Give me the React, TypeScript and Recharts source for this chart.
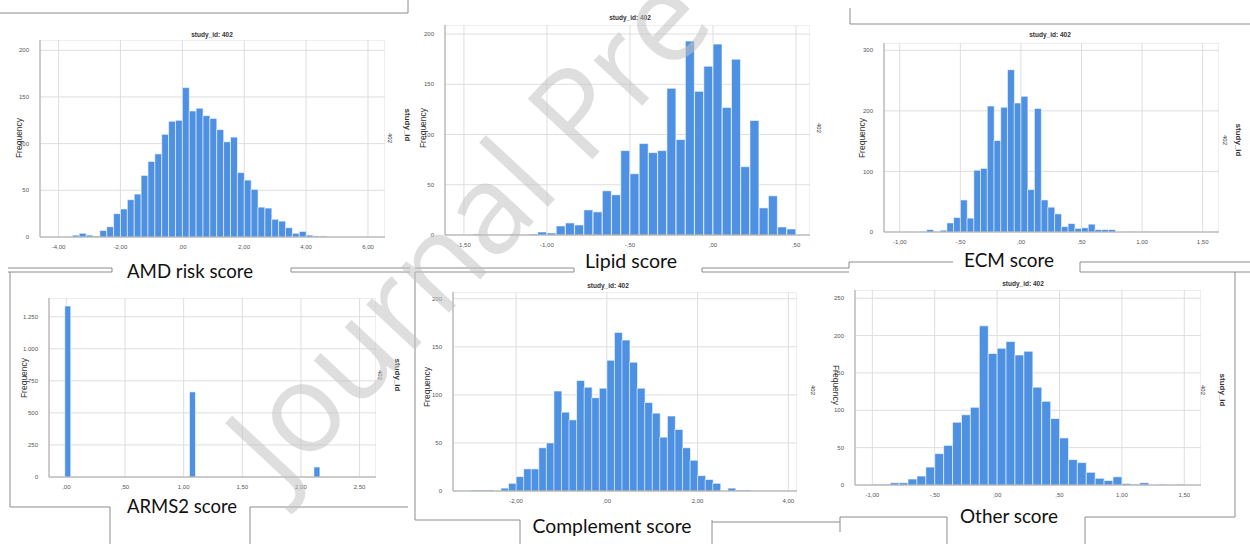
import React from 'react';
import { BarChart, Bar, XAxis, YAxis, CartesianGrid } from 'recharts';

// ---------- data (bin centres and frequencies) ----------
const amdBins = [-3.444, -3.222, -3.0, -2.778, -2.556, -2.333, -2.111, -1.889, -1.667, -1.444, -1.222, -1.0, -0.778, -0.556, -0.333, -0.111, 0.111, 0.333, 0.556, 0.778, 1.0, 1.222, 1.444, 1.667, 1.889, 2.111, 2.333, 2.556, 2.778, 3.0, 3.222, 3.444, 3.667, 3.889, 4.111, 4.333, 4.556];
const amdCounts = [2, 4, 2, 1, 7, 11, 25, 30, 40, 46, 66, 81, 89, 110, 124, 125, 160, 135, 138, 130, 127, 115, 102, 107, 69, 61, 51, 32, 31, 19, 17, 10, 4, 6, 2, 1, 1];

const lipidBins = [-1.4167, -1.3611, -1.3056, -1.25, -1.1944, -1.1389, -1.0833, -1.0278, -0.9722, -0.9167, -0.8611, -0.8056, -0.75, -0.6944, -0.6389, -0.5833, -0.5278, -0.4722, -0.4167, -0.3611, -0.3056, -0.25, -0.1944, -0.1389, -0.0833, -0.0278, 0.0278, 0.0833, 0.1389, 0.1944, 0.25, 0.3056, 0.3611, 0.4167, 0.4722];
const lipidCounts = [1, 0, 0, 0, 1, 0, 1, 3, 2, 9, 12, 10, 25, 23, 44, 40, 84, 61, 91, 82, 84, 146, 95, 193, 143, 168, 190, 127, 175, 68, 114, 27, 39, 8, 6];

const ecmBins = [-0.8056, -0.75, -0.6944, -0.6389, -0.5833, -0.5278, -0.4722, -0.4167, -0.3611, -0.3056, -0.25, -0.1944, -0.1389, -0.0833, -0.0278, 0.0278, 0.0833, 0.1389, 0.1944, 0.25, 0.3056, 0.3611, 0.4167, 0.4722, 0.5278, 0.5833, 0.6389, 0.6944, 0.75, 0.8056, 0.8611, 0.9167, 0.9722, 1.0278];
const ecmCounts = [1, 4, 1, 3, 15, 24, 53, 23, 102, 105, 208, 151, 206, 268, 213, 224, 70, 204, 53, 41, 30, 9, 14, 6, 7, 13, 4, 4, 4, 0, 0, 1, 0, 1];

const arms2Bins = [0.014, 1.077, 2.138];
const arms2Counts = [1333, 664, 78];

const complementBins = [-2.9167, -2.75, -2.5833, -2.4167, -2.25, -2.0833, -1.9167, -1.75, -1.5833, -1.4167, -1.25, -1.0833, -0.9167, -0.75, -0.5833, -0.4167, -0.25, -0.0833, 0.0833, 0.25, 0.4167, 0.5833, 0.75, 0.9167, 1.0833, 1.25, 1.4167, 1.5833, 1.75, 1.9167, 2.0833, 2.25, 2.4167, 2.5833, 2.75, 2.9167, 3.0833];
const complementCounts = [1, 1, 1, 0, 3, 8, 15, 23, 23, 45, 50, 104, 82, 74, 115, 108, 97, 107, 136, 165, 157, 134, 107, 92, 81, 56, 78, 64, 45, 32, 16, 12, 8, 0, 3, 1, 1];

const otherBins = [-0.9643, -0.8929, -0.8214, -0.75, -0.6786, -0.6071, -0.5357, -0.4643, -0.3929, -0.3214, -0.25, -0.1786, -0.1071, -0.0357, 0.0357, 0.1071, 0.1786, 0.25, 0.3214, 0.3929, 0.4643, 0.5357, 0.6071, 0.6786, 0.75, 0.8214, 0.8929, 0.9643, 1.0357, 1.1071, 1.1786, 1.25, 1.3214, 1.3929, 1.4643];
const otherCounts = [1, 1, 3, 3, 8, 12, 24, 42, 53, 84, 94, 104, 213, 176, 183, 192, 174, 179, 131, 112, 89, 63, 34, 30, 17, 9, 6, 11, 2, 1, 3, 0, 1, 0, 1];

// ---------- tick values ----------
const amdXTicks = [-4, -2, 0, 2, 4, 6];
const amdYTicks = [0, 50, 100, 150, 200];
const lipidXTicks = [-1.5, -1, -0.5, 0, 0.5];
const lipidYTicks = [0, 50, 100, 150, 200];
const ecmXTicks = [-1, -0.5, 0, 0.5, 1, 1.5];
const ecmYTicks = [0, 100, 200, 300];
const arms2XTicks = [0, 0.5, 1, 1.5, 2, 2.5];
const arms2YTicks = [0, 250, 500, 750, 1000, 1250];
const complementXTicks = [-2, 0, 2, 4];
const complementYTicks = [0, 50, 100, 150, 200];
const otherXTicks = [-1, -0.5, 0, 0.5, 1, 1.5];
const otherYTicks = [0, 50, 100, 150, 200, 250];

const panelTitle = 'study_id: 402';
const freqLabel = 'Frequency';
const captions = ['AMD risk score', 'Lipid score', 'ECM score', 'ARMS2 score', 'Complement score', 'Other score'];
const watermark = 'Journal Pre';

// ---------- helpers ----------
const xFmt = (v: number) => {
  const s = Math.abs(v).toFixed(2).replace('.', ',');
  const t = s.startsWith('0') ? s.slice(1) : s;
  return (v < 0 ? '-' : '') + t;
};
const yFmt = (v: number) =>
  v >= 1000 ? `${Math.floor(v / 1000)}.${String(v % 1000).padStart(3, '0')}` : String(v);

const toRows = (xs: number[], ys: number[]) => xs.map((x, i) => ({ x, y: ys[i] }));

const BAR = '#4e91e3';
const GRID = '#dedede';
const AXIS = '#a8a8a8';
const TICK = { fontSize: 6, fill: '#555', fontFamily: 'Liberation Sans, Arial, sans-serif' };

type PanelProps = {
  x0: number; x1: number; y0: number; y1: number;
  xs: number[]; ys: number[];
  xDomain: [number, number]; xTicks: number[];
  yDomain: [number, number]; yTicks: number[];
  barSize?: number;
};

function Panel(p: PanelProps) {
  const yw = 30;
  const xh = 14;
  return (
    <div style={{ position: 'absolute', left: p.x0 - yw, top: p.y0 }}>
      <BarChart
        width={p.x1 - p.x0 + yw}
        height={p.y1 - p.y0 + xh}
        data={toRows(p.xs, p.ys)}
        margin={{ top: 0, right: 0, bottom: 0, left: 0 }}
        barCategoryGap={0}
        barGap={0}
      >
        <CartesianGrid stroke={GRID} strokeWidth={1} />
        <XAxis
          dataKey="x"
          type="number"
          domain={p.xDomain}
          ticks={p.xTicks}
          interval={0}
          allowDataOverflow
          tickFormatter={xFmt}
          height={xh}
          tick={TICK}
          tickLine={false}
          tickMargin={2}
          axisLine={{ stroke: AXIS }}
        />
        <YAxis
          type="number"
          domain={p.yDomain}
          ticks={p.yTicks}
          interval={0}
          allowDataOverflow
          tickFormatter={yFmt}
          width={yw}
          tick={TICK}
          tickLine={false}
          tickMargin={5}
          axisLine={{ stroke: AXIS }}
        />
        <Bar dataKey="y" fill={BAR} stroke="#ffffff" strokeWidth={0.6} barSize={p.barSize} isAnimationActive={false} />
      </BarChart>
    </div>
  );
}

const txt = { fontFamily: 'Liberation Sans, Arial, sans-serif' };
const cap = { fontFamily: 'Lato, "Open Sans", sans-serif', fontSize: 19, fill: '#111' };

function Title({ x, y }: { x: number; y: number }) {
  return <text x={x} y={y} textAnchor="middle" fontSize={6.5} fontWeight="bold" fill="#333" style={txt}>{panelTitle}</text>;
}
function Freq({ x, y, flip }: { x: number; y: number; flip?: boolean }) {
  return (
    <text x={x} y={y} textAnchor="middle" dominantBaseline="middle" fontSize={8.5} fill="#333" style={txt}
      transform={`rotate(${flip ? 90 : -90} ${x} ${y})`}>{freqLabel}</text>
  );
}
function Side({ x, y, t, bold }: { x: number; y: number; t: string; bold?: boolean }) {
  return (
    <text x={x} y={y} textAnchor="middle" dominantBaseline="middle" fontSize={bold ? 8 : 6} fontWeight={bold ? 'bold' : 'normal'}
      fill="#333" style={txt} transform={`rotate(90 ${x} ${y})`}>{t}</text>
  );
}
function Cap({ x, y, t, w }: { x: number; y: number; t: string; w: number }) {
  return <text x={x} y={y} textAnchor="middle" textLength={w} lengthAdjust="spacingAndGlyphs" style={cap}>{t}</text>;
}

export default function App() {
  const L = '#8c8c8c';
  const lines: [number, number, number, number][] = [
    [0, 13, 408, 13], [408, 0, 408, 13],
    [850, 8, 850, 24], [850, 24, 1250, 24],
    [8, 268, 112, 268], [8, 272, 112, 272], [112, 268, 112, 272],
    [291, 268, 410, 268], [291, 272, 410, 272], [291, 268, 291, 272],
    [415, 268, 574, 268], [415, 272, 574, 272], [574, 268, 574, 272],
    [702, 268, 849, 268], [702, 272, 849, 272], [702, 268, 702, 272], [849, 262, 849, 268], [849, 262, 953, 262],
    [1080, 262, 1250, 262], [1080, 272, 1250, 272], [1080, 262, 1080, 272],
    [10, 272, 10, 507], [10, 507, 110, 507], [110, 507, 110, 544], [250, 507, 250, 544], [250, 507, 408, 507],
    [415, 272, 415, 520], [415, 520, 520, 520], [520, 520, 520, 544], [712, 520, 712, 544], [712, 522, 840, 522],
    [840, 517, 840, 532], [840, 517, 947, 517], [947, 517, 947, 544],
    [1085, 517, 1085, 544], [1085, 517, 1235, 517], [1235, 272, 1235, 517],
  ];
  return (
    <div style={{ position: 'absolute', left: 0, top: 0, width: 1250, height: 544, background: '#fff', overflow: 'hidden' }}>
      <Panel x0={40} x1={385} y0={40} y1={237} xs={amdBins} ys={amdCounts}
        xDomain={[-4.6, 6.55]} xTicks={amdXTicks} yDomain={[0, 211]} yTicks={amdYTicks} />
      <Panel x0={445} x1={810} y0={25} y1={235} xs={lipidBins} ys={lipidCounts}
        xDomain={[-1.614, 0.584]} xTicks={lipidXTicks} yDomain={[0, 209]} yTicks={lipidYTicks} />
      <Panel x0={884} x1={1219} y0={43} y1={232} xs={ecmBins} ys={ecmCounts}
        xDomain={[-1.13, 1.635]} xTicks={ecmXTicks} yDomain={[0, 312]} yTicks={ecmYTicks} />
      <Panel x0={49} x1={376} y0={298} y1={477} xs={arms2Bins} ys={arms2Counts}
        xDomain={[-0.148, 2.64]} xTicks={arms2XTicks} yDomain={[0, 1396]} yTicks={arms2YTicks} barSize={6} />
      <Panel x0={453} x1={797} y0={292} y1={491} xs={complementBins} ys={complementCounts}
        xDomain={[-3.39, 4.19]} xTicks={complementXTicks} yDomain={[0, 207]} yTicks={complementYTicks} />
      <Panel x0={855} x1={1201} y0={290} y1={485} xs={otherBins} ys={otherCounts}
        xDomain={[-1.139, 1.634]} xTicks={otherXTicks} yDomain={[0, 261]} yTicks={otherYTicks} />

      <svg width={1250} height={544} style={{ position: 'absolute', left: 0, top: 0, pointerEvents: 'none' }}>
        {lines.map((l, i) => (
          <line key={i} x1={l[0]} y1={l[1]} x2={l[2]} y2={l[3]} stroke={L} strokeWidth={1} />
        ))}
        <Title x={212} y={37} />
        <Title x={630} y={20} />
        <Title x={1050} y={37} />
        <Title x={608} y={288} />
        <Title x={1023} y={286} />

        <Freq x={20} y={138} />
        <Freq x={424} y={128} />
        <Freq x={863} y={138} />
        <Freq x={25} y={378} />
        <Freq x={428} y={387} />
        <Freq x={835} y={385} flip />

        <Side x={390} y={138} t="402" />
        <Side x={407} y={125} t="study_id" bold />
        <Side x={819} y={128} t="402" />
        <Side x={1225} y={140} t="402" />
        <Side x={1238} y={140} t="study_id" bold />
        <Side x={380} y={375} t="402" />
        <Side x={397} y={375} t="study_id" bold />
        <Side x={813} y={390} t="402" />
        <Side x={1203} y={390} t="402" />
        <Side x={1222} y={390} t="study_id" bold />

        <Cap x={190} y={278} t={captions[0]} w={126} />
        <Cap x={631} y={268} t={captions[1]} w={92} />
        <Cap x={1009} y={267} t={captions[2]} w={90} />
        <Cap x={182} y={513} t={captions[3]} w={110} />
        <Cap x={612} y={533} t={captions[4]} w={159} />
        <Cap x={1009} y={523} t={captions[5]} w={98} />

        <text x={282} y={492} fontSize={124} fill="#c4c4c4" opacity={0.55}
          style={{ fontFamily: 'Open Sans, sans-serif' }} transform="rotate(-47 282 492)">{watermark}</text>
      </svg>
    </div>
  );
}
